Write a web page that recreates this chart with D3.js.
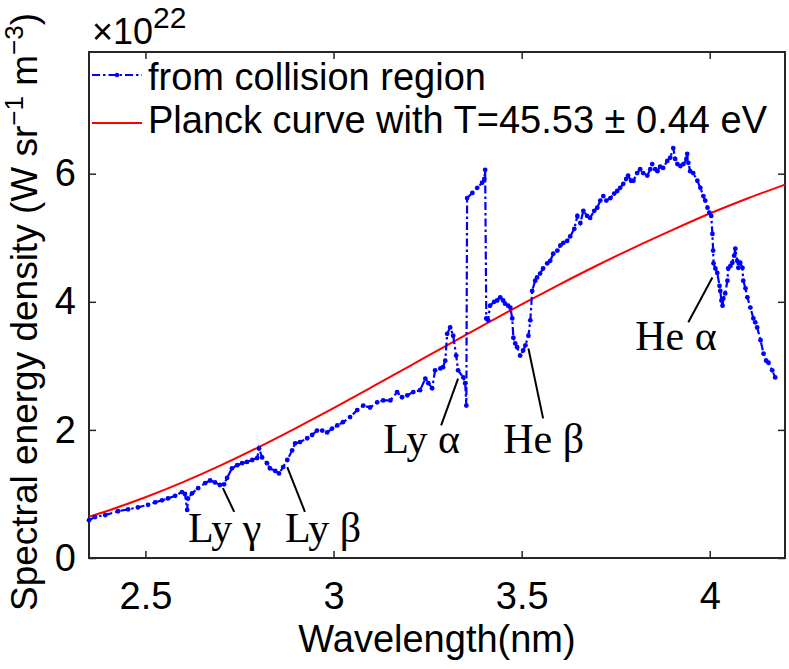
<!DOCTYPE html>
<html>
<head>
<meta charset="utf-8">
<script src="https://cdn.jsdelivr.net/npm/d3@7"></script>
<style>
body{margin:0;background:#fff;}
</style>
</head>
<body>
<div id="chart"></div>
<script>

// measured spectrum (nm, 1e22 W sr^-1 m^-3)
const wavelength = [2.350,2.366,2.393,2.427,2.454,2.480,2.507,2.526,2.544,2.560,2.579,2.597,2.605,2.611,2.613,2.624,2.640,2.659,2.672,2.685,
	2.698,2.709,2.717,2.730,2.744,2.757,2.770,2.784,2.797,2.802,2.810,2.823,2.831,2.845,2.855,2.866,2.877,2.890,2.898,2.911,
	2.930,2.943,2.956,2.970,2.983,2.996,3.010,3.025,3.044,3.063,3.079,3.097,3.116,3.132,3.151,3.169,3.182,3.196,3.212,3.230,
	3.244,3.252,3.262,3.270,3.284,3.291,3.297,3.302,3.310,3.318,3.326,3.331,3.345,3.350,3.353,3.355,3.369,3.382,3.395,3.401,
	3.403,3.406,3.411,3.416,3.427,3.435,3.443,3.451,3.456,3.464,3.470,3.475,3.478,3.483,3.488,3.496,3.504,3.510,3.518,3.523,
	3.528,3.536,3.541,3.549,3.557,3.568,3.576,3.584,3.595,3.603,3.611,3.621,3.629,3.640,3.648,3.656,3.664,3.674,3.682,3.693,
	3.701,3.709,3.717,3.725,3.736,3.746,3.754,3.762,3.770,3.778,3.783,3.791,3.797,3.807,3.815,3.823,3.834,3.842,3.847,3.855,
	3.861,3.868,3.876,3.887,3.895,3.903,3.908,3.914,3.922,3.930,3.938,3.940,3.943,3.948,3.956,3.967,3.975,3.983,3.988,3.994,
	3.999,4.004,4.007,4.009,4.010,4.015,4.020,4.026,4.028,4.031,4.034,4.036,4.041,4.047,4.049,4.055,4.060,4.065,4.068,4.073,
	4.076,4.081,4.087,4.089,4.095,4.100,4.108,4.116,4.121,4.126,4.135,4.143,4.150,4.156,4.166,4.174];
const intensity = [0.59,0.64,0.67,0.73,0.76,0.79,0.83,0.87,0.90,0.93,0.97,1.03,1.00,0.75,0.93,1.01,1.09,1.17,1.21,1.18,
	1.14,1.15,1.25,1.40,1.45,1.48,1.50,1.53,1.56,1.71,1.57,1.48,1.40,1.36,1.32,1.42,1.53,1.68,1.79,1.81,
	1.87,1.92,1.99,1.99,1.96,2.02,2.07,2.12,2.20,2.31,2.38,2.35,2.43,2.46,2.46,2.59,2.51,2.54,2.59,2.62,
	2.80,2.73,2.65,2.93,2.96,2.98,3.08,3.50,3.60,3.47,3.16,2.93,2.82,2.73,2.38,5.62,5.70,5.78,5.86,5.92,
	6.06,3.74,3.71,3.94,4.00,4.02,4.07,4.02,3.97,3.94,3.91,3.74,3.44,3.35,3.29,3.16,3.24,3.32,3.47,3.71,
	4.17,4.33,4.38,4.44,4.52,4.60,4.64,4.75,4.80,4.88,4.92,4.95,5.02,5.14,5.34,5.23,5.42,5.34,5.31,5.42,
	5.47,5.58,5.65,5.58,5.62,5.69,5.73,5.78,5.84,5.92,5.97,5.89,5.89,6.01,6.07,6.01,5.97,6.07,6.15,6.07,
	6.04,6.11,6.09,6.20,6.25,6.40,6.23,6.15,6.12,6.15,6.23,6.31,6.17,6.04,6.01,5.89,5.78,5.65,5.58,5.47,
	5.39,5.34,5.06,4.80,4.60,4.52,4.45,4.25,4.17,4.02,3.94,4.05,4.13,4.33,4.52,4.56,4.61,4.72,4.83,4.64,
	4.53,4.61,4.53,4.33,4.21,4.07,3.91,3.74,3.68,3.60,3.40,3.19,3.08,3.05,2.93,2.82];

// fitted Planck curve
const planckWl  = [2.35,2.4,2.5,2.6,2.7,2.8,2.9,3.0,3.1,3.2,3.3,3.4,3.5,3.6,3.7,3.8,3.9,4.0,4.1,4.2];
const planckVal = [0.644,0.738,0.948,1.184,1.445,1.728,2.028,2.340,2.662,2.989,3.317,3.641,3.959,4.269,4.567,4.851,5.120,5.378,5.613,5.830];

const xTicks = [2.5,3,3.5,4];
const yTicks = [0,2,4,6];
const legendLabels = ["from collision region","Planck curve with T=45.53 \u00b1 0.44 eV"];

const lineLabels = ["Ly \u03b3","Ly \u03b2","Ly \u03b1","He \u03b2","He \u03b1"];
const labelAt   = [[2.613,0.25],[2.871,0.25],[3.132,1.64],[3.451,1.64],[3.802,3.24]];
const pointerFrom = [[2.706,1.09],[2.877,1.42],[3.331,2.80],[3.518,3.27],[4.007,4.38]];
const pointerTo   = [[2.736,0.72],[2.924,0.72],[3.286,2.07],[3.557,2.18],[3.943,3.68]];

const W = 789, H = 669;
const m = {t:52,r:4,b:111,l:89};

const svg = d3.select("#chart").append("svg")
	.attr("width",W).attr("height",H)
	.style("font-family","'Liberation Sans', Arial, sans-serif");

const x = d3.scaleLinear().domain([2.35,4.2]).range([m.l, W-m.r]);
const y = d3.scaleLinear().domain([0,7.9]).range([H-m.b, m.t]);

const axisColor = "#262626";

// axes, ticks pointing inward
const gx = svg.append("g")
	.attr("transform",`translate(0,${H-m.b})`)
	.call(d3.axisBottom(x).tickValues(xTicks).tickFormat(d3.format("")).tickSizeInner(-7).tickSizeOuter(0).tickPadding(24));
const gy = svg.append("g")
	.attr("transform",`translate(${m.l},0)`)
	.call(d3.axisLeft(y).tickValues(yTicks).tickFormat(d3.format("")).tickSizeInner(-7).tickSizeOuter(0).tickPadding(13));
const gt = svg.append("g")
	.attr("transform",`translate(0,${m.t})`)
	.call(d3.axisTop(x).tickValues(xTicks).tickFormat("").tickSizeInner(-7).tickSizeOuter(0));
const gr = svg.append("g")
	.attr("transform",`translate(${W-m.r},0)`)
	.call(d3.axisRight(y).tickValues(yTicks).tickFormat("").tickSizeInner(-7).tickSizeOuter(0));

[gx,gy,gt,gr].forEach(g => {
	g.select(".domain").remove();
	g.selectAll("line").attr("stroke",axisColor).attr("stroke-width",1.5);
	g.selectAll("text").attr("fill","#000").style("font-size","38px").style("font-family","'Liberation Sans', Arial, sans-serif");
});

svg.append("rect")
	.attr("x",m.l).attr("y",m.t)
	.attr("width",W-m.r-m.l).attr("height",H-m.b-m.t)
	.attr("fill","none").attr("stroke",axisColor).attr("stroke-width",2);

// planck curve
const planck = planckWl.map((d,i) => [d, planckVal[i]]);
svg.append("path")
	.datum(planck)
	.attr("fill","none")
	.attr("stroke","#ff0000")
	.attr("stroke-width",2)
	.attr("d", d3.line().x(d => x(d[0])).y(d => y(d[1])).curve(d3.curveMonotoneX));

// spectrum
const spec = wavelength.map((d,i) => [d, intensity[i]]);
svg.append("path")
	.datum(spec)
	.attr("fill","none")
	.attr("stroke","#0000ff")
	.attr("stroke-width",2.2)
	.attr("stroke-dasharray","8,3,2.5,3")
	.attr("d", d3.line().x(d => x(d[0])).y(d => y(d[1])));

svg.append("g").selectAll("circle")
	.data(spec)
	.enter().append("circle")
	.attr("cx", d => x(d[0]))
	.attr("cy", d => y(d[1]))
	.attr("r",2.4)
	.attr("fill","#0000ff");

// line identifications
const notes = svg.append("g");
notes.selectAll("line")
	.data(pointerFrom)
	.enter().append("line")
	.attr("x1", d => x(d[0])).attr("y1", d => y(d[1]))
	.attr("x2", (d,i) => x(pointerTo[i][0])).attr("y2", (d,i) => y(pointerTo[i][1]))
	.attr("stroke","#000").attr("stroke-width",2);
notes.selectAll("text")
	.data(lineLabels)
	.enter().append("text")
	.attr("x", (d,i) => x(labelAt[i][0]))
	.attr("y", (d,i) => y(labelAt[i][1]))
	.style("font-family","'Liberation Serif', 'Times New Roman', serif")
	.style("font-size","42px")
	.text(d => d);

// legend
const lg = svg.append("g");
lg.append("line").attr("x1",92).attr("x2",142).attr("y1",75).attr("y2",75)
	.attr("stroke","#0000ff").attr("stroke-width",2).attr("stroke-dasharray","8,3,2.5,3");
lg.append("circle").attr("cx",117).attr("cy",75).attr("r",2.2).attr("fill","#0000ff");
lg.append("line").attr("x1",92).attr("x2",142).attr("y1",123).attr("y2",123)
	.attr("stroke","#ff0000").attr("stroke-width",2);
lg.selectAll("text")
	.data(legendLabels)
	.enter().append("text")
	.attr("x",148)
	.attr("y",(d,i) => 90 + i*43)
	.style("font-size","38px")
	.text(d => d);

// exponent
const ex = svg.append("text").attr("x",92).attr("y",44);
ex.append("tspan").style("font-size","36px").text("\u00d710");
ex.append("tspan").attr("dy",-16).style("font-size","30px").text("22");

// axis titles
svg.append("text")
	.attr("x",(m.l + W - m.r)/2)
	.attr("y",652)
	.attr("text-anchor","middle")
	.style("font-size","38px")
	.text("Wavelength(nm)");

const yl = svg.append("text")
	.attr("transform","translate(37,312) rotate(-90)")
	.attr("text-anchor","middle")
	.style("font-size","37px");
yl.append("tspan").text("Spectral energy density (W sr");
yl.append("tspan").attr("dy",-14).style("font-size","26px").text("\u22121");
yl.append("tspan").attr("dy",14).text(" m");
yl.append("tspan").attr("dy",-14).style("font-size","26px").text("\u22123");
yl.append("tspan").attr("dy",14).text(")");

</script>
</body>
</html>
